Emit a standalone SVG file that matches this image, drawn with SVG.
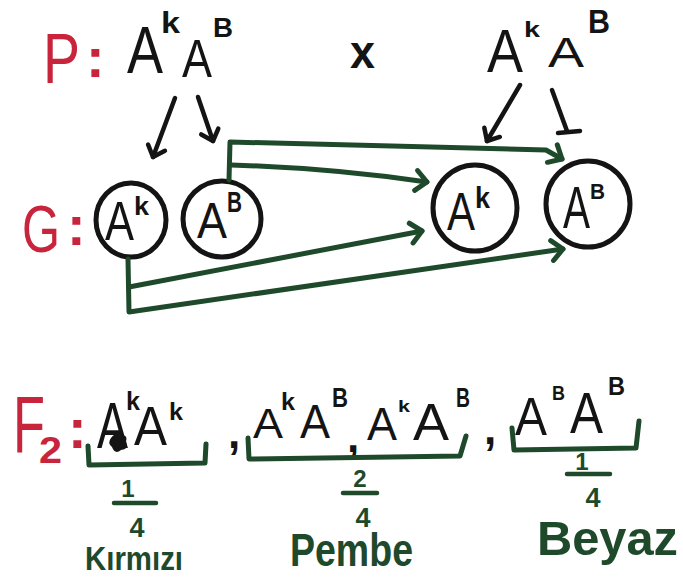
<svg xmlns="http://www.w3.org/2000/svg" width="683" height="579" viewBox="0 0 683 579">
  <style>
    text { font-family: "Liberation Sans", Arial, sans-serif; font-weight: normal; }
    .red { fill: #c8243c; }
    .blk { fill: #141414; }
    .grn { fill: #1e4a2b; font-weight: bold; }
    .sup { font-weight: bold; }
    .ring { fill: none; stroke: #141414; stroke-width: 5; }
    .pen { fill: none; stroke: #141414; stroke-width: 4.5; stroke-linecap: round; stroke-linejoin: round; }
    .link { fill: none; stroke: #1e4a2b; stroke-width: 5; stroke-linecap: round; stroke-linejoin: round; }
    .brace { fill: none; stroke: #1e4a2b; stroke-width: 5; stroke-linecap: round; stroke-linejoin: round; }
    .bar { stroke: #1e4a2b; stroke-width: 4.5; stroke-linecap: round; }
  </style>
  <defs>
    <marker id="headG" markerUnits="userSpaceOnUse" markerWidth="30" markerHeight="30" refX="0" refY="0" viewBox="-15 -15 30 30" orient="auto">
      <path d="M-11,-10 L0,0 L-11,10" fill="none" stroke="#1e4a2b" stroke-width="5" stroke-linecap="round" stroke-linejoin="round"/>
    </marker>
    <marker id="headK" markerUnits="userSpaceOnUse" markerWidth="30" markerHeight="30" refX="0" refY="0" viewBox="-15 -15 30 30" orient="auto">
      <path d="M-10,-9 L0,0 L-10,9" fill="none" stroke="#141414" stroke-width="4.5" stroke-linecap="round" stroke-linejoin="round"/>
    </marker>
  </defs>

  <rect width="683" height="579" fill="#ffffff"/>

  <!-- row labels -->
  <g id="label-P">
    <text class="red"><tspan x="43" y="83" font-size="70" textLength="37" lengthAdjust="spacingAndGlyphs">P</tspan><tspan x="86" y="77" font-size="56" font-weight="bold">:</tspan></text>
  </g>
  <g id="label-G">
    <text class="red"><tspan x="22" y="252" font-size="66" textLength="38" lengthAdjust="spacingAndGlyphs">G</tspan><tspan x="67" y="245" font-size="56" font-weight="bold">:</tspan></text>
  </g>
  <g id="label-F2">
    <text class="red"><tspan x="13" y="452" font-size="80" textLength="32" lengthAdjust="spacingAndGlyphs">F</tspan><tspan x="39" y="463" font-size="36" font-weight="bold" textLength="23" lengthAdjust="spacingAndGlyphs">2</tspan><tspan x="68" y="448" font-size="56" font-weight="bold">:</tspan></text>
  </g>

  <!-- parents -->
  <g id="parent-1">
    <text class="blk"><tspan x="127" y="73" font-size="67" textLength="36" lengthAdjust="spacingAndGlyphs">A</tspan><tspan class="sup" x="161" y="33" font-size="29" textLength="19" lengthAdjust="spacingAndGlyphs">k</tspan><tspan x="182" y="77" font-size="54" textLength="30" lengthAdjust="spacingAndGlyphs">A</tspan><tspan class="sup" x="213" y="37" font-size="27" textLength="20" lengthAdjust="spacingAndGlyphs">B</tspan></text>
  </g>
  <g id="cross">
    <text class="blk sup" x="350" y="68" font-size="46" textLength="25" lengthAdjust="spacingAndGlyphs">x</text>
  </g>
  <g id="parent-2">
    <text class="blk"><tspan x="487" y="72" font-size="61" textLength="36" lengthAdjust="spacingAndGlyphs">A</tspan><tspan class="sup" x="524" y="37" font-size="22" textLength="16" lengthAdjust="spacingAndGlyphs">k</tspan><tspan x="548" y="67" font-size="42" textLength="36" lengthAdjust="spacingAndGlyphs">A</tspan><tspan class="sup" x="588" y="33" font-size="34" textLength="22" lengthAdjust="spacingAndGlyphs">B</tspan></text>
  </g>

  <!-- gametes -->
  <g id="gamete-1">
    <ellipse class="ring" cx="131" cy="220" rx="35" ry="37"/>
    <text class="blk"><tspan x="105" y="240" font-size="56" textLength="29" lengthAdjust="spacingAndGlyphs">A</tspan><tspan class="sup" x="134" y="215" font-size="25" textLength="15" lengthAdjust="spacingAndGlyphs">k</tspan></text>
  </g>
  <g id="gamete-2">
    <ellipse class="ring" cx="222" cy="219" rx="39" ry="38"/>
    <text class="blk"><tspan x="197" y="238" font-size="50" textLength="30" lengthAdjust="spacingAndGlyphs">A</tspan><tspan class="sup" x="227" y="212" font-size="30" textLength="15" lengthAdjust="spacingAndGlyphs">B</tspan></text>
  </g>
  <g id="gamete-3">
    <ellipse class="ring" cx="475" cy="208" rx="42" ry="43"/>
    <text class="blk"><tspan x="447" y="230" font-size="53" textLength="28" lengthAdjust="spacingAndGlyphs">A</tspan><tspan class="sup" x="475" y="208" font-size="30" textLength="15" lengthAdjust="spacingAndGlyphs">k</tspan></text>
  </g>
  <g id="gamete-4">
    <ellipse class="ring" cx="588" cy="204" rx="42" ry="43"/>
    <text class="blk"><tspan x="563" y="228" font-size="60" textLength="27" lengthAdjust="spacingAndGlyphs">A</tspan><tspan class="sup" x="590" y="199" font-size="22" textLength="15" lengthAdjust="spacingAndGlyphs">B</tspan></text>
  </g>

  <!-- connectors -->
  <g id="connectors">
    <!-- parent to gamete arrows -->
    <path class="pen" d="M175,98 L153,157" marker-end="url(#headK)"/>
    <path class="pen" d="M198,97 L213,141" marker-end="url(#headK)"/>
    <path class="pen" d="M520,85 L487,141" marker-end="url(#headK)"/>
    <path class="pen" d="M552,90 L567,131"/>
    <path class="pen" d="M558,133 L580,131" stroke-width="7"/>
    <!-- gamete combinations -->
    <path class="link" d="M229,180 L230,142 L546,150 L562,159" marker-end="url(#headG)"/>
    <path class="link" d="M231,165 Q330,168 427,182" marker-end="url(#headG)"/>
    <path class="link" d="M128,259 L129,312 L563,249" marker-end="url(#headG)"/>
    <path class="link" d="M129,287 L422,231" marker-end="url(#headG)"/>
  </g>

  <!-- offspring -->
  <g id="offspring-red">
    <text class="blk"><tspan x="97" y="448" font-size="64" textLength="31" lengthAdjust="spacingAndGlyphs">A</tspan><tspan class="sup" x="126" y="410" font-size="25" textLength="14" lengthAdjust="spacingAndGlyphs">k</tspan><tspan x="134" y="445" font-size="56" textLength="33" lengthAdjust="spacingAndGlyphs">A</tspan><tspan class="sup" x="169" y="420" font-size="23" textLength="14" lengthAdjust="spacingAndGlyphs">k</tspan></text>
    <path class="blk" d="M111,438 Q116,431 121,436 Q128,434 126,442 Q129,449 121,450 Q115,455 112,447 Q107,443 111,438 Z"/>
    <path class="brace" d="M88,446 L89,465 L205,463 L206,444"/>
    <text class="grn" x="128" y="497" font-size="24" text-anchor="middle">1</text>
    <line class="bar" x1="114" y1="503" x2="156" y2="503"/>
    <text class="grn" x="137" y="537" font-size="27" text-anchor="middle">4</text>
    <text class="grn" x="85" y="570" font-size="33" textLength="98" lengthAdjust="spacingAndGlyphs">Kırmızı</text>
  </g>
  <g id="separators">
    <text class="blk sup"><tspan x="228" y="448" font-size="44">,</tspan><tspan x="484" y="444" font-size="44">,</tspan></text>
  </g>
  <g id="offspring-pink">
    <text class="blk"><tspan x="253" y="438" font-size="43" textLength="30" lengthAdjust="spacingAndGlyphs">A</tspan><tspan class="sup" x="281" y="410" font-size="23" textLength="14" lengthAdjust="spacingAndGlyphs">k</tspan><tspan x="300" y="438" font-size="49" textLength="30" lengthAdjust="spacingAndGlyphs">A</tspan><tspan class="sup" x="332" y="407" font-size="27" textLength="16" lengthAdjust="spacingAndGlyphs">B</tspan><tspan class="sup" x="347" y="452" font-size="44">,</tspan><tspan x="367" y="440" font-size="46" textLength="30" lengthAdjust="spacingAndGlyphs">A</tspan><tspan class="sup" x="398" y="412" font-size="17" textLength="12" lengthAdjust="spacingAndGlyphs">k</tspan><tspan x="413" y="440" font-size="52" textLength="36" lengthAdjust="spacingAndGlyphs">A</tspan><tspan class="sup" x="456" y="407" font-size="28" textLength="14" lengthAdjust="spacingAndGlyphs">B</tspan></text>
    <path class="brace" d="M248,438 L249,459 L460,456 L466,436"/>
    <text class="grn" x="360" y="487" font-size="24" text-anchor="middle">2</text>
    <line class="bar" x1="343" y1="493" x2="377" y2="493"/>
    <text class="grn" x="363" y="527" font-size="27" text-anchor="middle">4</text>
    <text class="grn" x="290" y="566" font-size="46" textLength="123" lengthAdjust="spacingAndGlyphs">Pembe</text>
  </g>
  <g id="offspring-white">
    <text class="blk"><tspan x="515" y="435" font-size="53" textLength="32" lengthAdjust="spacingAndGlyphs">A</tspan><tspan class="sup" x="552" y="400" font-size="21" textLength="13" lengthAdjust="spacingAndGlyphs">B</tspan><tspan x="570" y="433" font-size="57" textLength="33" lengthAdjust="spacingAndGlyphs">A</tspan><tspan class="sup" x="608" y="395" font-size="25" textLength="17" lengthAdjust="spacingAndGlyphs">B</tspan></text>
    <path class="brace" d="M512,428 L514,450 L636,448 L639,421"/>
    <text class="grn" x="582" y="470" font-size="24" text-anchor="middle">1</text>
    <line class="bar" x1="567" y1="474" x2="610" y2="474"/>
    <text class="grn" x="593" y="507" font-size="27" text-anchor="middle">4</text>
    <text class="grn" x="537" y="555" font-size="48" textLength="141" lengthAdjust="spacingAndGlyphs">Beyaz</text>
  </g>
</svg>
